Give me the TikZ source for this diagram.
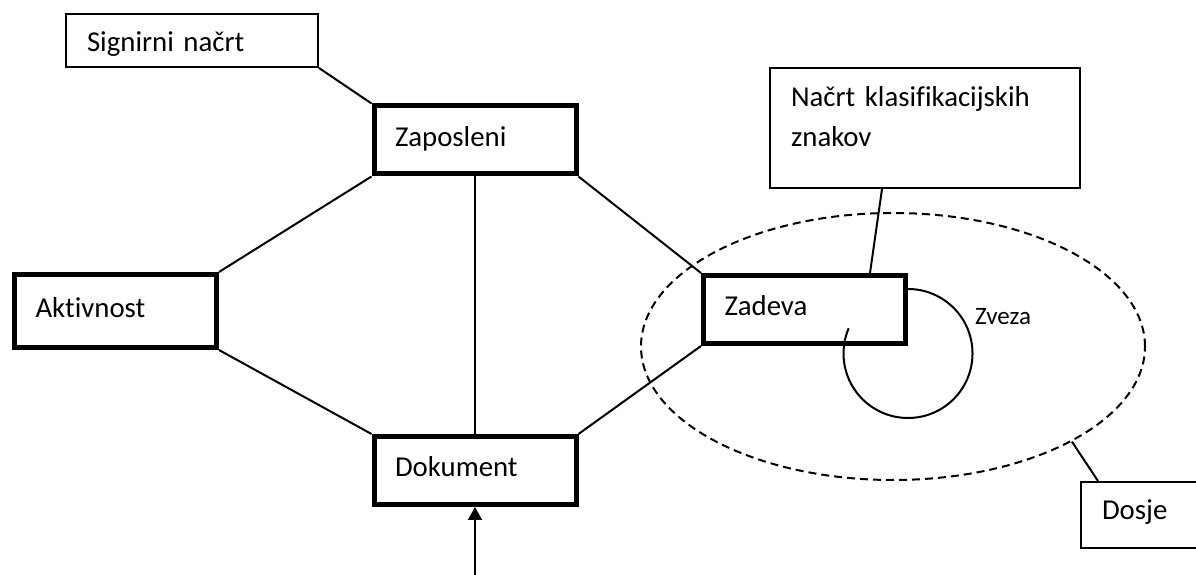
\documentclass[tikz,border=0pt]{standalone}
\usepackage{fontspec}
\setmainfont{Carlito}[Ligatures=NoCommon]
\usetikzlibrary{arrows.meta,calc,shapes.geometric}

\begin{document}
\begin{tikzpicture}[x=1pt,y=1pt,
  every node/.style={font=\fontsize{28.8pt}{40pt}\selectfont},
  entity/.style={draw, rectangle, line width=5pt, minimum width=202pt, minimum height=68pt,
    inner xsep=21pt, text width=160pt, align=left, text height=13pt, text depth=0pt},
  note/.style={draw, rectangle, line width=2pt, inner xsep=21pt, align=left},
  link/.style={line width=2pt},
]
\useasboundingbox (0,0) rectangle (1196,575);
\clip (0,0) rectangle (1196,575);

% entities
\node[entity] (zaposleni) at (475,435) {Zaposleni};
\node[entity, minimum height=73pt] (aktivnost) at (115.5,264) {Aktivnost};
\node[entity] (zadeva) at (804.5,265.5) {Zadeva};
\node[entity] (dokument) at (475,104.5) {Dokument};

% annotation boxes
\node[note, minimum width=252pt, minimum height=53pt, text width=210pt,
  text height=22.4pt, text depth=0pt] (signirni) at (192,534.5) {Signirni načrt};
\node[note, minimum width=310pt, minimum height=120pt, text width=268pt,
  text height=19pt, text depth=61pt] (plan) at (925,447) {Načrt klasifikacijskih\\znakov};
\node[note, minimum width=135pt, minimum height=66pt, text width=93pt,
  text height=9pt, text depth=0pt] (dosje) at (1148.5,60) {Dosje};

% file boundary
\node[draw, ellipse, line width=2pt, dash pattern=on 8pt off 5pt, inner sep=0pt,
  minimum width=504pt, minimum height=267pt] (dosjeset) at (893,228.5) {};

% relationship label
\node[font=\fontsize{25pt}{30pt}\selectfont, anchor=base west, inner sep=0pt] (zveza) at (975,250) {Zveza};

% connectors
\draw[link] (signirni.south east) -- (zaposleni.north west);
\draw[link] (zaposleni.south west) -- (aktivnost.north east);
\draw[link] (zaposleni.south) -- (dokument.north);
\draw[link] (zaposleni.south east) -- (zadeva.north west);
\draw[link] (aktivnost.south east) -- (dokument.north west);
\draw[link] (dokument.north east) -- (zadeva.south west);
\draw[link] ($(plan.south)+(-43,0)$) -- ($(zadeva.north)+(65.5,0)$);
\draw[link] (dosjeset.-28.9) -- ($(dosje.north west)+(18,0)$);
\draw[link] ($(zadeva.east)+(0,20.5)$) arc[start angle=90, end angle=-203, radius=64.5pt];

\coordinate (source) at (dokument.south |- 0,0);
\draw[link, -{Triangle[length=13pt,width=14pt]}] (source) -- (dokument.south);
\end{tikzpicture}
\end{document}
